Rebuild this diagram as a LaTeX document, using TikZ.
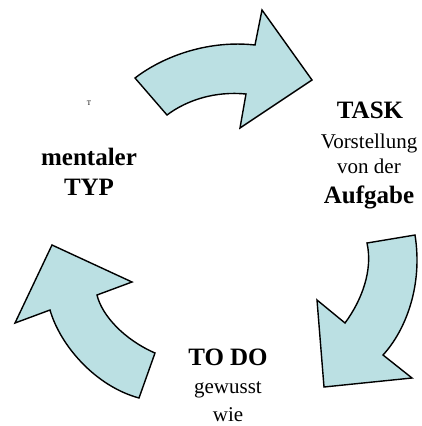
\documentclass[tikz,border=0pt]{standalone}
\usepackage{fontspec}
\setmainfont{Liberation Serif}
\usepackage{xcolor}
\usetikzlibrary{positioning}
\definecolor{arrowblue}{RGB}{187,224,227}
\tikzset{
  bigarrow/.style={draw=black, fill=arrowblue, line width=1.4pt, line join=miter},
  bold/.style={anchor=base, font=\fontsize{25}{28}\selectfont\bfseries},
  plain/.style={anchor=base, font=\fontsize{21}{24}\selectfont}
}

\begin{document}
\begin{tikzpicture}[x=1pt, y=-1pt]
\useasboundingbox (0,0) rectangle (422,426);

% top arrow
\coordinate (T1) at (135,78);
\coordinate (T2) at (255,45);
\coordinate (T3) at (262,10);
\coordinate (T4) at (312,80);
\coordinate (T5) at (240,128);
\coordinate (T6) at (246,94);
\coordinate (T7) at (167,115);
\draw[bigarrow] (T1) .. controls (165,55) and (210,40) .. (T2) -- (T3) -- (T4) -- (T5) -- (T6)
  .. controls (215,91) and (187,100) .. (T7) -- cycle;

% right arrow
\coordinate (R1) at (367,243);
\coordinate (R2) at (415,235);
\coordinate (R3) at (383,355);
\coordinate (R4) at (412,378);
\coordinate (R5) at (324,387);
\coordinate (R6) at (317,300);
\coordinate (R7) at (345,323);
\draw[bigarrow] (R1) -- (R2) .. controls (423,285) and (406,330) .. (R3) -- (R4) -- (R5) -- (R6) -- (R7)
  .. controls (362,300) and (373,270) .. (R1) -- cycle;

% left arrow
\coordinate (L1) at (139,398);
\coordinate (L2) at (155,353);
\coordinate (L3) at (97,295);
\coordinate (L4) at (132,282);
\coordinate (L5) at (52,245);
\coordinate (L6) at (15,323);
\coordinate (L7) at (50,310);
\draw[bigarrow] (L1) -- (L2) .. controls (125,340) and (102,316) .. (L3) -- (L4) -- (L5) -- (L6) -- (L7)
  .. controls (60,345) and (95,386) .. (L1) -- cycle;

% labels
\node[bold] (task) at (370,118) {TASK};
\node[plain] (vorst) at (369,148) {Vorstellung};
\node[plain] (vonder) at (369,173) {von der};
\node[bold] (aufgabe) at (369,203) {Aufgabe};

\node[bold] (mentaler) at (89,165) {mentaler};
\node[bold] (typ) at (89,195) {TYP};
\node[anchor=base, font=\fontsize{7}{8}\selectfont] (smallt) at (89,105) {T};

\node[bold] (todo) at (228,365) {TO DO};
\node[plain] (gewusst) at (228,393) {gewusst};
\node[plain] (wie) at (228,421) {wie};
\end{tikzpicture}
\end{document}
